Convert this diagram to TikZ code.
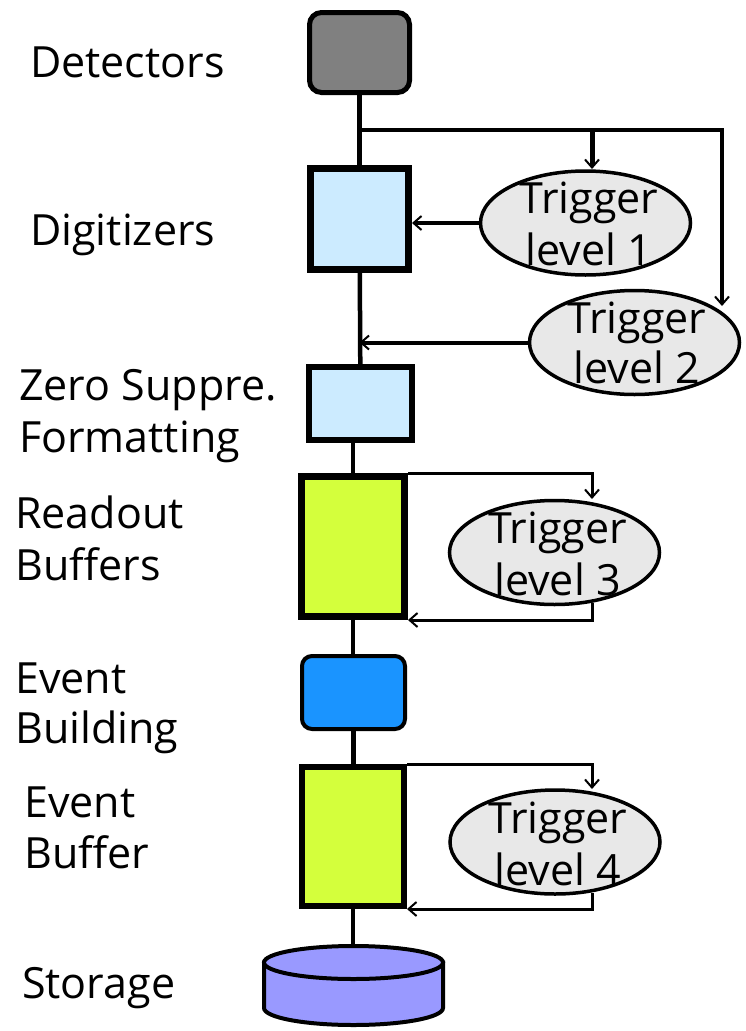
\documentclass[tikz,border=0pt]{standalone}
\usepackage{fontspec}
\setmainfont{Open Sans}
\usetikzlibrary{arrows.meta,shapes.geometric,calc}
\definecolor{detgray}{HTML}{808080}
\definecolor{lblue}{HTML}{CCEBFF}
\definecolor{lime}{HTML}{D4FF3C}
\definecolor{ebblue}{HTML}{1A94FF}
\definecolor{stor}{HTML}{9999FF}
\definecolor{trigfill}{HTML}{E8E8E8}
\begin{document}
\begin{tikzpicture}[x=1pt,y=-1pt,
  box/.style={draw, rectangle, inner sep=0pt, outer sep=auto},
  lab/.style={anchor=base west, inner sep=0pt, font=\fontsize{43}{50}\selectfont},
  ttxt/.style={anchor=base, inner sep=0pt, font=\fontsize{43}{50}\selectfont},
  trig/.style={draw, ellipse, fill=trigfill, line width=3.5pt, inner sep=0pt,
    outer sep=auto, minimum width=210pt, minimum height=104pt},
  conn/.style={line width=4.5pt},
  tip/.style={-{Straight Barb[length=8pt,width=14pt,line width=2pt]}}]
\useasboundingbox (0,0) rectangle (746,1031);
\fill[white] (0,0) rectangle (746,1031);

% boxes
\node[box, fill=detgray, rounded corners=12pt, line width=5pt,
  minimum width=100pt, minimum height=80pt] (det) at (359.5,52.5) {};
\node[box, fill=lblue, line width=7pt,
  minimum width=98pt, minimum height=101pt] (dig) at (359.5,219) {};
\node[box, fill=lblue, line width=6pt,
  minimum width=103pt, minimum height=73pt] (zs) at (360.5,403.5) {};
\node[box, fill=lime, line width=7pt,
  minimum width=103pt, minimum height=140pt] (ro) at (353,546.5) {};
\node[box, fill=ebblue, rounded corners=10pt, line width=4pt,
  minimum width=103pt, minimum height=73pt] (evb) at (353.5,692.5) {};
\node[box, fill=lime, line width=6pt,
  minimum width=102pt, minimum height=139pt] (ebuf) at (353,836.5) {};

% storage cylinder
\draw[line width=4pt, fill=stor] (264,962.5) -- (264,1008)
  arc[start angle=180, end angle=360, x radius=89.5pt, y radius=17pt]
  -- (443,962.5) -- cycle;
\node[draw, ellipse, fill=stor, line width=4pt, inner sep=0pt, outer sep=auto,
  minimum width=179pt, minimum height=33pt] (st) at (353.5,962.5) {};

% trigger ellipses
\node[trig] (t1) at (585.5,223) {};
\node[trig] (t2) at (634.5,342.5) {};
\node[trig] (t3) at (554.5,552.5) {};
\node[trig] (t4) at (555,842) {};

\node[ttxt] (t1a) at (589,213) {Trigger};
\node[ttxt] (t1b) at (589,265) {level 1};
\node[ttxt] (t2a) at (637,333) {Trigger};
\node[ttxt] (t2b) at (637,383) {level 2};
\node[ttxt] (t3a) at (557.5,543) {Trigger};
\node[ttxt] (t3b) at (557.5,595) {level 3};
\node[ttxt] (t4a) at (558,833) {Trigger};
\node[ttxt] (t4b) at (558,885) {level 4};

% labels
\node[lab] (l1) at (30,77) {Detectors};
\node[lab] (l2) at (30,245) {Digitizers};
\node[lab] (l3a) at (19,400) {Zero Suppre.};
\node[lab] (l3b) at (19,452) {Formatting};
\node[lab] (l4a) at (15,528) {Readout};
\node[lab] (l4b) at (15,580) {Buffers};
\node[lab] (l5a) at (15,693) {Event};
\node[lab] (l5b) at (15,743) {Building};
\node[lab] (l6a) at (24,817) {Event};
\node[lab] (l6b) at (24,868) {Buffer};
\node[lab] (l7) at (22,998) {Storage};

% coordinates
\coordinate (br) at (359.5,130);
\coordinate (t1br) at (592,130);
\coordinate (t1in) at (592,169);
\coordinate (t2in) at (722,306);
\coordinate (t3in) at (592,499);
\coordinate (t3out) at (592,603);
\coordinate (t4in) at (592,789);
\coordinate (t4out) at (592,893);

% connectors
\draw[conn] (det) -- (dig);
\draw[tip, line width=4.5pt] (br) -| (t2in);
\draw[tip, line width=5pt] (t1br) -- (t1in);
\draw[tip, line width=4pt] (t1.west) -- (t1.west -| dig.east);
\draw[tip, line width=4pt] (t2.west) -- (t2.west -| dig.south);
\draw[conn] (dig) -- (zs);
\draw[conn] (zs.south -| ro.north) -- (ro.north);
\draw[tip, line width=3pt] (ro.north east) -| (t3in);
\draw[tip, line width=3pt] (t3out) |- (ro.south east);
\draw[conn] (ro.south) -- (ro.south |- evb.north);
\draw[conn] (evb.south) -- (evb.south |- ebuf.north);
\draw[tip, line width=3pt] (ebuf.north east) -| (t4in);
\draw[tip, line width=3pt] (t4out) |- (ebuf.south east);
\draw[conn] (ebuf.south) -- (ebuf.south |- st.north);
\end{tikzpicture}
\end{document}
